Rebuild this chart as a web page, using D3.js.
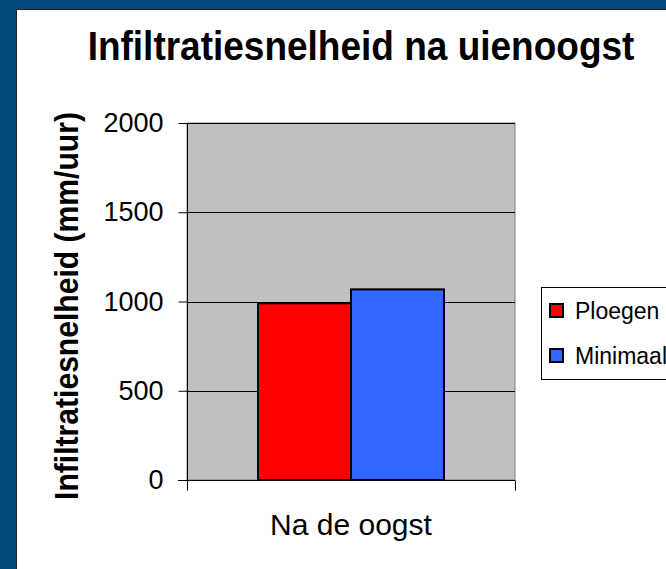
<!DOCTYPE html>
<html><head><meta charset="utf-8">
<script src="https://cdn.jsdelivr.net/npm/d3@7"></script>
<style>body{margin:0;background:#004b7c;}svg{display:block;}</style>
</head><body>
<svg id="c" width="666" height="569"></svg>
<script>
const categories = ["Na de oogst"];
const seriesNames = ["Ploegen", "Minimaal"];
const seriesValues = [[990], [1068]];
const seriesColors = ["#ff0000", "#3366ff"];
const yTicks = [0, 500, 1000, 1500, 2000];

const svg = d3.select("#c");
const font = "'Liberation Sans', Arial, sans-serif";
svg.append("rect").attr("width",666).attr("height",569).attr("fill","#004b7c");
svg.append("rect").attr("x",16).attr("y",9).attr("width",660).attr("height",570).attr("fill","#222");
svg.append("rect").attr("x",17).attr("y",10).attr("width",660).attr("height",570).attr("fill","#fff");

const L=187, R=515, T=123, B=480;
const y = d3.scaleLinear().domain([0,2000]).range([B,T]);
const x0 = d3.scaleBand().domain(categories).range([L,R]).paddingInner(0).paddingOuter(0);
const x1 = d3.scaleBand().domain(seriesNames).range([71, x0.bandwidth()-71]).padding(0);

svg.append("rect").attr("x",L).attr("y",T).attr("width",R-L).attr("height",B-T)
  .attr("fill","#c0c0c0").attr("stroke","#808080").attr("stroke-width",1);

const g = svg.append("g");
g.selectAll("line.grid").data(yTicks.filter(d=>d>0)).join("line")
  .attr("x1",L).attr("x2",R).attr("y1",d=>Math.round(y(d))+0.5).attr("y2",d=>Math.round(y(d))+0.5)
  .attr("stroke","#000").attr("stroke-width",1);

categories.forEach((c,ci)=>{
  seriesNames.forEach((s,si)=>{
    const v = seriesValues[si][ci];
    g.append("rect").attr("x",x0(c)+x1(s)).attr("y",y(v))
      .attr("width",x1.bandwidth()).attr("height",B-y(v))
      .attr("fill",seriesColors[si]).attr("stroke","#000").attr("stroke-width",2);
  });
});

const yAxis = d3.axisLeft(y).tickValues(yTicks).tickFormat(d3.format("d")).tickSize(9).tickPadding(15);
const ya = svg.append("g").attr("transform",`translate(${L+0.5},0)`).call(yAxis);
ya.select(".domain").attr("stroke","#000").attr("d",`M0,${T}V${B}`);
ya.selectAll("text").attr("font-family",font).attr("font-size",27).attr("fill","#000");
ya.selectAll("line").attr("stroke","#000");

const xa = svg.append("g").attr("transform",`translate(0,${B+0.5})`);
xa.append("line").attr("x1",L-9).attr("x2",R).attr("stroke","#000");
[L,R].forEach(px=>xa.append("line").attr("x1",px+0.5).attr("x2",px+0.5).attr("y1",0).attr("y2",10).attr("stroke","#000"));
xa.selectAll("text.cat").data(categories).join("text")
  .attr("x",d=>x0(d)+x0.bandwidth()/2).attr("y",54).attr("text-anchor","middle")
  .attr("font-family",font).attr("font-size",30).attr("fill","#000").text(d=>d);

function fitText(sel, target){
  const w = sel.node().getComputedTextLength();
  return w > 0 ? target / w : 1;
}
const titleG = svg.append("g");
const title = titleG.append("text").attr("x",0).attr("y",0).attr("text-anchor","middle")
  .attr("font-family",font).attr("font-weight","bold").attr("font-size",40).attr("fill","#000")
  .text("Infiltratiesnelheid na uienoogst");
titleG.attr("transform",`translate(361,60) scale(${fitText(title,547)},1)`);

const ylabG = svg.append("g");
const ylab = ylabG.append("text").attr("x",0).attr("y",0).attr("text-anchor","middle")
  .attr("font-family",font).attr("font-weight","bold").attr("font-size",34).attr("fill","#000")
  .text("Infiltratiesnelheid (mm/uur)");
ylabG.attr("transform",`translate(78,306) rotate(-90) scale(${fitText(ylab,388)},1)`);

const lg = svg.append("g");
lg.append("rect").attr("x",541.5).attr("y",287.5).attr("width",200).attr("height",92)
  .attr("fill","#fff").attr("stroke","#000");
seriesNames.forEach((s,i)=>{
  const cy = 311 + i*45;
  lg.append("rect").attr("x",550).attr("y",cy-7).attr("width",13).attr("height",13)
    .attr("fill",seriesColors[i]).attr("stroke","#000").attr("stroke-width",2);
  lg.append("text").attr("x",575).attr("y",cy+8).attr("font-family",font).attr("font-size",23)
    .attr("fill","#000").text(s);
});
</script>
</body></html>
